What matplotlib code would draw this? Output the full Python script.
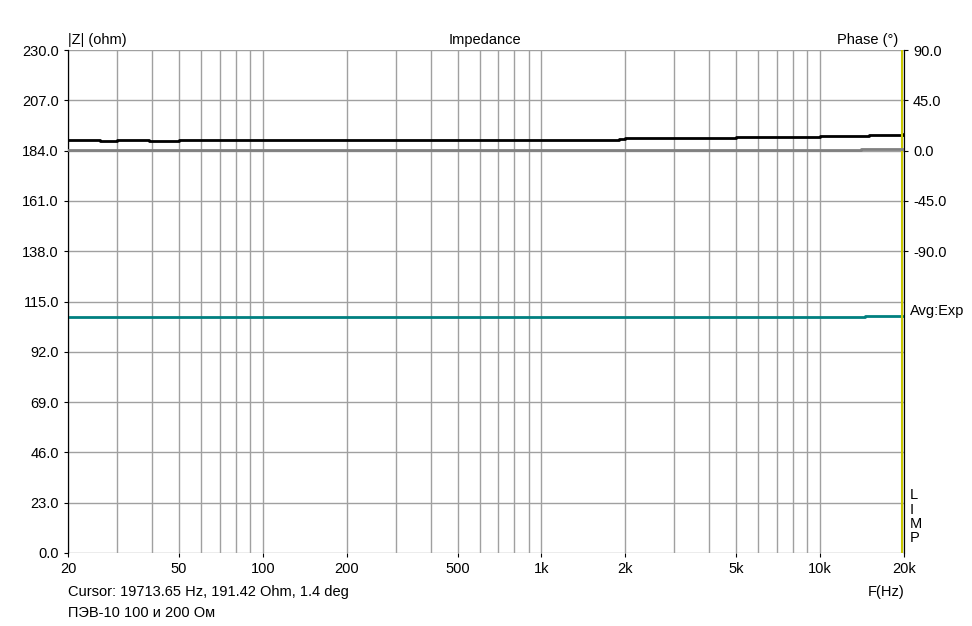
import numpy as np
import matplotlib.pyplot as plt

# Impedance magnitude (ohm)
f_z = [20, 25, 26, 28, 30, 38, 39, 48, 50, 100, 200, 500, 1000, 1900, 2000, 4800, 5000, 9000, 10000, 15000, 20000]
z = [189.0, 189.0, 188.6, 188.6, 189.0, 189.0, 188.6, 188.6, 189.0, 189.0, 189.0, 189.0, 189.0, 189.1, 189.6, 189.6, 190.1, 190.3, 190.8, 191.0, 191.4]

# Phase (deg)
f_ph = [20, 350, 360, 400, 500, 1000, 5000, 13000, 14000, 20000]
ph = [0.3, 0.3, 0.6, 0.6, 0.8, 0.8, 0.8, 0.8, 1.4, 1.4]

# Avg:Exp reference line (ohm)
f_avg = [20, 1000, 14000, 14500, 20000]
avg = [108.0, 108.0, 108.0, 108.4, 108.4]

cursor_f = 19713.65

xticks = [20, 50, 100, 200, 500, 1000, 2000, 5000, 10000, 20000]
xlabels = ['20', '50', '100', '200', '500', '1k', '2k', '5k', '10k', '20k']
yticks = [0, 23, 46, 69, 92, 115, 138, 161, 184, 207, 230]
phticks = [90, 45, 0, -45, -90]

plt.rcParams['font.family'] = ['Liberation Sans', 'DejaVu Sans']
plt.rcParams['font.size'] = 10.5

fig = plt.figure(figsize=(9.72, 6.26), dpi=100)
ax = fig.add_axes([68 / 972, 73 / 626, 836 / 972, 503 / 626])
ax.set_xscale('log')
ax.set_xlim(20, 20000)
ax.set_ylim(0, 230)

minor = []
for dec in [10, 100, 1000, 10000]:
    for m in range(2, 10):
        v = dec * m
        if 20 <= v <= 20000:
            minor.append(v)
for v in minor + [10, 100, 1000, 10000]:
    ax.axvline(v, color='#a0a0a0', lw=1, zorder=0)
for v in yticks:
    ax.axhline(v, color='#a0a0a0', lw=1, zorder=0)

ax.set_xticks(xticks)
ax.set_xticklabels(xlabels)
ax.xaxis.set_minor_locator(plt.NullLocator())
ax.set_yticks(yticks)
ax.set_yticklabels(['%.1f' % v for v in yticks])
ax.tick_params(length=3, direction='out')

ax2 = ax.twinx()
ax2.set_ylim(-360, 90)
ax2.set_yticks(phticks)
ax2.set_yticklabels(['%.1f' % v for v in phticks])
ax2.tick_params(length=3, direction='out')

ax.step(f_avg, avg, where='post', color='#008080', lw=2, zorder=3)
ax2.step(f_ph, ph, where='post', color='#808080', lw=2, zorder=3)
ax.step(f_z, z, where='post', color='black', lw=2, zorder=4)
ax.axvline(cursor_f, color='#c8c800', lw=1.5, zorder=5)

for a in (ax, ax2):
    for s in ['top', 'bottom']:
        a.spines[s].set_visible(False)

fig.text(68 / 972, 1 - 40 / 626, '|Z| (ohm)', va='center', ha='left')
fig.text(485 / 972, 1 - 40 / 626, 'Impedance', va='center', ha='center')
fig.text(898 / 972, 1 - 40 / 626, 'Phase (°)', va='center', ha='right')
fig.text(910 / 972, 1 - 311 / 626, 'Avg:Exp', va='center', ha='left')
for i, ch in enumerate('LIMP'):
    fig.text(910 / 972, 1 - (495 + i * 14.5) / 626, ch, va='center', ha='left')
fig.text(868 / 972, 1 - 592 / 626, 'F(Hz)', va='center', ha='left')
fig.text(68 / 972, 1 - 592 / 626, 'Cursor: 19713.65 Hz, 191.42 Ohm, 1.4 deg', va='center', ha='left')
fig.text(68 / 972, 1 - 613 / 626, 'ПЭВ-10 100 и 200 Ом', va='center', ha='left')

fig.savefig('out.png', dpi=100)
